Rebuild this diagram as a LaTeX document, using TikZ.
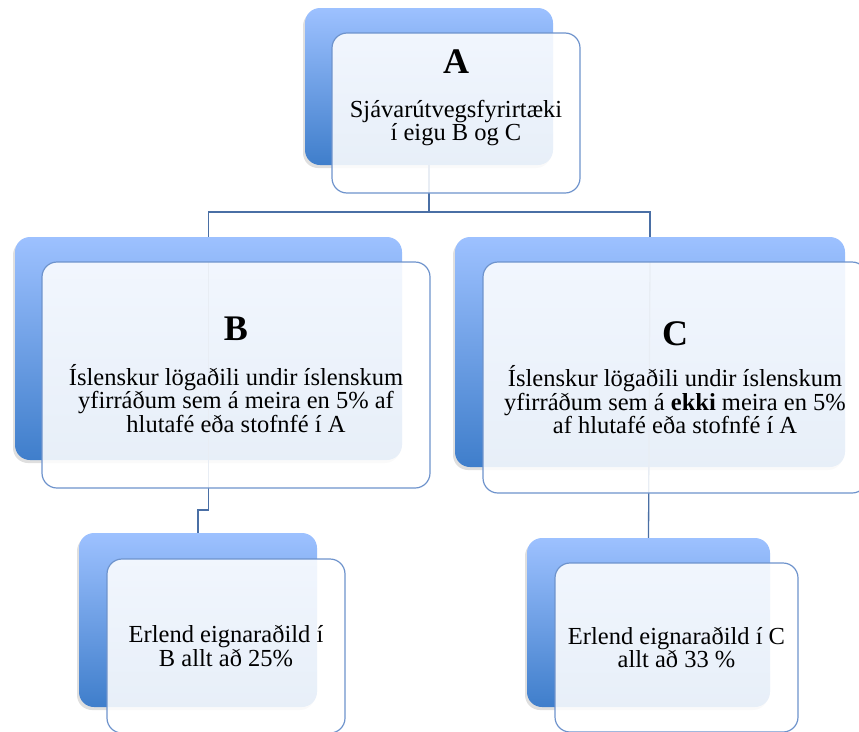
\documentclass[tikz,border=0pt]{standalone}
\usepackage{fontspec}
\setmainfont{Liberation Serif}
\usetikzlibrary{shadows}

\definecolor{backtop}{HTML}{9DC1FF}
\definecolor{backbot}{HTML}{3F7ECB}
\definecolor{frontline}{HTML}{6E93CC}
\definecolor{linkcol}{HTML}{4A6FA5}

\newcommand{\boxtitle}[1]{{\fontsize{36}{38}\selectfont\bfseries #1}}

\begin{document}
\begin{tikzpicture}[
		x=1pt, y=-1pt,
		back/.style={rectangle, rounded corners=15pt, top color=backtop, bottom color=backbot,
			draw=none, drop shadow={shadow xshift=-2pt, shadow yshift=-3pt, opacity=0.25}},
		front/.style={rectangle, rounded corners=15pt, fill=white, fill opacity=0.88,
			draw=frontline, line width=1.2pt, text opacity=1, align=center,
			font=\fontsize{24.5}{23.5}\selectfont},
		link/.style={draw=linkcol, line width=1.3pt}
		]
		\useasboundingbox (0,0) rectangle (859,731);
		% back boxes
		\node[back, minimum width=248pt, minimum height=157pt] (Aback) at (429,86.5) {};
		\node[back, minimum width=387pt, minimum height=223pt] (Bback) at (208.5,348.5) {};
		\node[back, minimum width=390pt, minimum height=230pt] (Cback) at (650,352) {};
		\node[back, minimum width=238pt, minimum height=174pt] (BBback) at (198,620) {};
		\node[back, minimum width=243pt, minimum height=169pt] (CCback) at (648.5,622.5) {};
		% connectors
		\coordinate (Ajoin) at (Aback.center |- 0,212);
		\draw[link] (Aback.south) -- (Ajoin);
		\draw[link] (Bback.north) |- (Ajoin) -| (Cback.north);
		\coordinate (Bstart) at (Bback.center |- 0,262);
		\coordinate (Bbend) at (Bback.center |- 0,510);
		\draw[link] (Bstart) -- (Bbend) -| (BBback.north);
		\coordinate (Cstart) at (Cback.center |- 0,262);
		\draw[link] (Cstart) -- (CCback.north);
		% front boxes
		\node[front, minimum width=248pt, minimum height=160pt] (A) at ([shift={(27,26.5)}]Aback.center) {};
		\node[font=\fontsize{24.5}{23.5}\selectfont, align=center] (Atxt) at (456,98)
			{\boxtitle{A}\\[20pt] Sjávarútvegsfyrirtæki\\ í eigu B og C};
		\node[front, minimum width=388pt, minimum height=226pt] (B) at ([shift={(27.5,26.5)}]Bback.center)
			{\boxtitle{B}\\[21pt] Íslenskur lögaðili undir íslenskum\\ yfirráðum sem á meira en 5\% af\\ hlutafé eða stofnfé í A};
		\node[front, minimum width=384pt, minimum height=231pt] (C) at ([shift={(25,25.5)}]Cback.center)
			{\boxtitle{C}\\[18pt] Íslenskur lögaðili undir íslenskum\\ yfirráðum sem á \textbf{ekki} meira en 5\%\\ af hlutafé eða stofnfé í A};
		\node[front, minimum width=238pt, minimum height=174pt] (BB) at ([shift={(28,26)}]BBback.center)
			{Erlend eignaraðild í\\ B allt að 25\%};
		\node[front, minimum width=243pt, minimum height=169pt] (CC) at ([shift={(28,25)}]CCback.center)
			{Erlend eignaraðild í C\\ allt að 33 \%};
	\end{tikzpicture}
\end{document}
